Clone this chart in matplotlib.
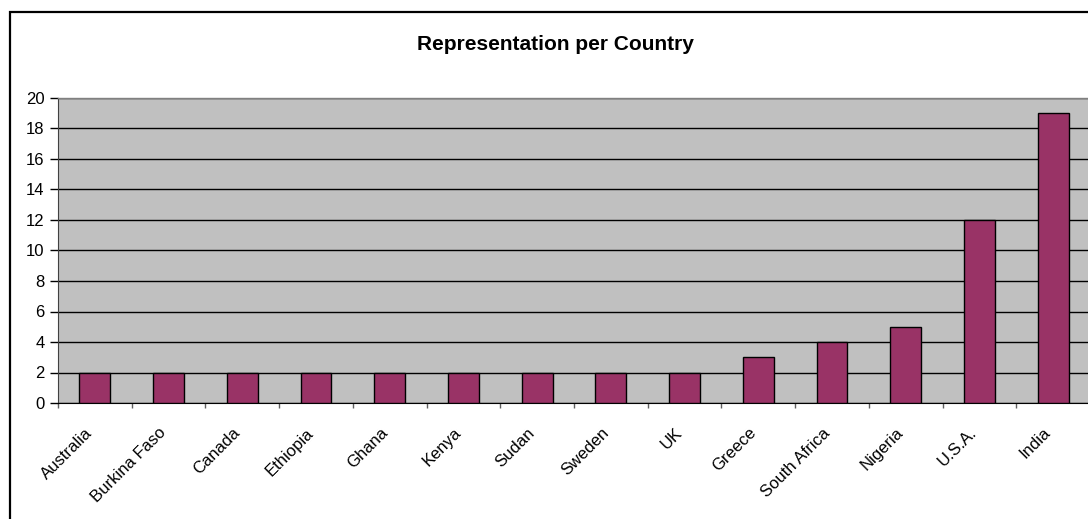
import matplotlib
matplotlib.use("Agg")
import matplotlib.pyplot as plt
import matplotlib.transforms as mtransforms
import numpy as np
from matplotlib.patches import Rectangle

countries = ["Australia", "Burkina Faso", "Canada", "Ethiopia", "Ghana", "Kenya",
             "Sudan", "Sweden", "UK", "Greece", "South Africa", "Nigeria",
             "U.S.A.", "India"]
counts = [2, 2, 2, 2, 2, 2, 2, 2, 2, 3, 4, 5, 12, 19]
yticks = list(range(0, 21, 2))

plt.rcParams["font.family"] = ["Liberation Sans", "DejaVu Sans"]

fig = plt.figure(figsize=(10.88, 5.19), dpi=100)
ax = fig.add_axes([58 / 1088, 1 - 403 / 519, 1032 / 1088, 305 / 519])

# outer chart border (the picture is cropped at right and bottom)
fig.patches.append(Rectangle((10 / 1088, -0.1), 1.2, 0.1 + 1 - 12 / 519,
                             transform=fig.transFigure, fill=False,
                             edgecolor="black", linewidth=1.6, zorder=0))

x = np.arange(len(countries))
ax.set_facecolor("#C0C0C0")
ax.bar(x, counts, width=0.42, color="#993366", edgecolor="black",
       linewidth=1.0, zorder=3)

ax.set_xlim(-0.5, len(countries) - 0.5)
ax.set_ylim(0, 20)
ax.set_yticks(yticks)
ax.yaxis.grid(True, color="black", linewidth=1.0, zorder=1)
ax.set_axisbelow(True)

ax.set_xticks(x)
ax.set_xticklabels(countries, rotation=45, ha="right", va="top",
                   rotation_mode="anchor", fontsize=12)
ax.tick_params(axis="x", which="major", length=0, pad=16)
# shift labels a little left of the category centre, like Excel does
shift = mtransforms.ScaledTranslation(-10 / 100, 0, fig.dpi_scale_trans)
for lbl in ax.get_xticklabels():
    lbl.set_transform(lbl.get_transform() + shift)
ax.set_xticks(np.arange(-0.5, len(countries), 1), minor=True)
ax.tick_params(axis="x", which="minor", length=3.6, width=1, color="#606060")
ax.tick_params(axis="y", length=5.8, width=1, labelsize=12, pad=4)

for side in ("top", "right"):
    ax.spines[side].set_color("#808080")
    ax.spines[side].set_linewidth(1.0)
ax.spines["left"].set_color("#404040")
ax.spines["bottom"].set_color("black")

fig.text(555 / 1088, 1 - 44 / 519, "Representation per Country",
         ha="center", va="center", fontsize=15, fontweight="bold")

fig.savefig("out.png", dpi=100)
